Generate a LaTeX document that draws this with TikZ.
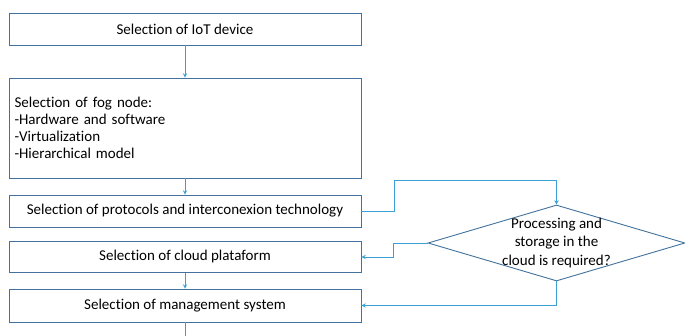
\documentclass[tikz,border=0pt]{standalone}
\usepackage{fontspec}
\setmainfont{Carlito}[Ligatures=NoCommon]
\usetikzlibrary{shapes.geometric}

\definecolor{boxblue}{RGB}{65,113,156}
\definecolor{linkblue}{RGB}{60,160,212}

\tikzset{
  stepbox/.style={rectangle, draw=boxblue, line width=0.9pt, minimum width=352pt, font=\fontsize{15}{17}\selectfont},
  link/.style={draw=linkblue, line width=0.9pt},
}

\begin{document}
\begin{tikzpicture}
\begin{scope}[x=1pt, y=-1pt]
    \useasboundingbox (0,0) rectangle (685,336);

    \node (dev) at (185,29) [stepbox, minimum height=32pt] {Selection of IoT device};
    \node (fog) at (185,128) [stepbox, minimum height=100pt, text width=341pt, align=left, inner sep=5pt]
        {Selection of fog node:\\-Hardware and software\\-Virtualization\\-Hierarchical model};
    \node (prot) at (185,211) [stepbox, minimum height=32pt] {Selection of protocols and interconexion technology};
    \node (cloud) at (185,257) [stepbox, minimum height=31pt] {Selection of cloud plataform};
    \node (mgmt) at (185,305.5) [stepbox, minimum height=33pt] {Selection of management system};

    \node (ask) at (556.5,243) [diamond, draw=boxblue, line width=0.9pt, inner sep=0pt, minimum width=257pt, minimum height=76pt] {};
    \node (asktxt) at (556.5,243) [align=center, font=\fontsize{15}{18.5}\selectfont] {Processing and\\storage in the\\cloud is required?};

    \coordinate (up) at (394,180);
    \coordinate (out) at (185,336);

    \draw[link, -stealth] (dev) -- (fog);
    \draw[link, -stealth] (fog) -- (prot);
    \draw[link, -stealth] (cloud) -- (mgmt);
    \draw[link] (mgmt) -- (out);

    \draw[link, -stealth] (prot.east) -| (up) -| (ask.north);
    \draw[link, -stealth] (ask.west) -- ++(-34,0) |- (cloud.east);
    \draw[link, -stealth] (ask.south) |- (mgmt.east);

\end{scope}
\end{tikzpicture}
\end{document}
